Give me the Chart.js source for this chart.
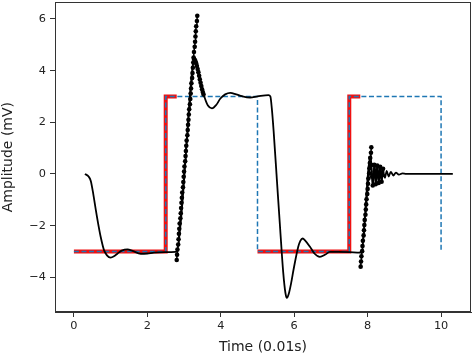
<!DOCTYPE html>
<html><head><meta charset="utf-8">
<script src="https://cdn.jsdelivr.net/npm/chart.js@4"></script>
<style>html,body{margin:0;padding:0;background:#fff}#wrap{width:474px;height:356px}</style>
</head><body><div id="wrap"><canvas id="c" width="474" height="356"></canvas></div>
<script>
// ---- data ----
const xTicks = [0, 2, 4, 6, 8, 10];
const yTicks = [-4, -2, 0, 2, 4, 6];

// blue dashed step signal
const stepX = [0, 2.5, 2.5, 5, 5, 7.5, 7.5, 10, 10];
const stepY = [-3, -3, 3, 3, -3, -3, 3, 3, -3];

// red thick segments (null = gap)
const redX = [0, 2.5, 2.5, 2.8, 3.9, 5, 7.5, 7.5, 7.8];
const redY = [-3, -3, 3, 3, null, -3, -3, 3, 3];

// black response line
const respX = [0.30, 0.40, 0.46, 0.53, 0.60, 0.67, 0.73, 0.82, 0.90, 1.00, 1.10, 1.19, 1.30, 1.46, 1.60, 1.82, 2.00, 2.18, 2.50, 2.77, 2.80,
  3.22, 3.27, 3.32, 3.42, 3.54, 3.65, 3.76, 3.88, 3.99, 4.12, 4.26, 4.42, 4.58, 4.80, 5.00, 5.30, 5.35, 5.39, 5.44, 5.53, 5.62, 5.70, 5.76, 5.80,
  5.85, 5.92, 5.98, 6.11, 6.17, 6.23, 6.30, 6.43, 6.55, 6.70, 6.85, 6.97, 7.20, 7.50, 7.79, 7.82,
  8.08, 8.10, 8.12, 8.14, 8.16, 8.18, 8.20, 8.22, 8.24, 8.26, 8.28, 8.30, 8.32, 8.34, 8.36, 8.38, 8.40, 8.42,
  8.44, 8.47, 8.52, 8.57, 8.63, 8.70, 8.77, 8.85, 8.95, 9.05, 10.32];
const respY = [0.00, -0.10, -0.27, -0.80, -1.42, -2.00, -2.44, -2.95, -3.15, -3.24, -3.18, -3.08, -2.97, -2.92, -2.98, -3.09, -3.08, -3.05, -3.03, -3.02, -3.00,
  4.00, 4.45, 4.35, 3.70, 3.05, 2.65, 2.54, 2.68, 2.92, 3.08, 3.14, 3.08, 3.01, 2.96, 3.00, 3.05, 3.00, 2.54, 1.65, -0.27, -2.18, -3.80, -4.60, -4.80,
  -4.65, -4.20, -3.72, -2.82, -2.58, -2.50, -2.58, -2.82, -3.08, -3.21, -3.12, -3.02, -3.02, -3.03, -3.05, -3.05,
  0.70, 0.35, -0.10, -0.45, -0.10, 0.35, 0.10, -0.40, -0.10, 0.32, 0.05, -0.35, -0.10, 0.28, 0.05, -0.30, -0.05, 0.20,
  0.00, -0.15, 0.12, -0.10, 0.08, -0.06, 0.05, -0.03, 0.02, 0.00, 0.00];

// black dotted samples (first rise)
const dotsAX = [2.80, 2.81, 2.82, 2.84, 2.85, 2.86, 2.87, 2.88, 2.90, 2.91, 2.92, 2.93, 2.94, 2.95, 2.97, 2.98,
  2.99, 3.00, 3.01, 3.03, 3.04, 3.05, 3.06, 3.07, 3.09, 3.10, 3.11, 3.12, 3.13, 3.14, 3.16, 3.17,
  3.18, 3.19, 3.20, 3.22, 3.23, 3.24, 3.25, 3.26, 3.27, 3.29, 3.30, 3.31, 3.32, 3.33, 3.35, 3.36];
const dotsAY = [-3.33, -3.13, -2.93, -2.73, -2.53, -2.32, -2.12, -1.92, -1.72, -1.52, -1.32, -1.12, -0.92, -0.72, -0.52, -0.31,
  -0.11, 0.09, 0.29, 0.49, 0.69, 0.89, 1.09, 1.29, 1.50, 1.70, 1.90, 2.10, 2.30, 2.50, 2.70, 2.90,
  3.11, 3.31, 3.51, 3.71, 3.91, 4.11, 4.31, 4.51, 4.72, 4.92, 5.12, 5.32, 5.52, 5.72, 5.92, 6.12];
// black dotted samples (first fall after peak)
const dotsBX = [3.27, 3.29, 3.31, 3.33, 3.35, 3.37, 3.39, 3.41, 3.43, 3.45, 3.47, 3.49, 3.51, 3.53];
const dotsBY = [4.45, 4.42, 4.36, 4.28, 4.18, 4.06, 3.94, 3.80, 3.66, 3.53, 3.40, 3.28, 3.17, 3.08];
// black dotted samples (second rise)
const dotsCX = [7.81, 7.82, 7.83, 7.85, 7.86, 7.87, 7.89, 7.90, 7.91, 7.92, 7.94, 7.95, 7.96, 7.97, 7.99, 8.00,
  8.01, 8.02, 8.04, 8.05, 8.06, 8.07, 8.09, 8.10];
const dotsCY = [-3.59, -3.39, -3.19, -2.99, -2.79, -2.59, -2.38, -2.18, -1.98, -1.78, -1.58, -1.38, -1.18, -0.98, -0.78, -0.58,
  -0.38, -0.18, 0.02, 0.22, 0.42, 0.62, 0.82, 1.03];
// black dotted samples (second ringing)
const dotsDX = [8.10, 8.12, 8.14, 8.16, 8.18, 8.20, 8.22, 8.24, 8.26, 8.28, 8.30, 8.32, 8.34, 8.36, 8.38, 8.40, 8.42];
const dotsDY = [0.35, -0.10, -0.45, -0.10, 0.35, 0.10, -0.40, -0.10, 0.32, 0.05, -0.35, -0.10, 0.28, 0.05, -0.30, -0.05, 0.20];

// ---- chart ----
const pts = (xs, ys) => xs.map((x, i) => ({x: x, y: ys[i]}));
Chart.defaults.font.family = "'DejaVu Sans', sans-serif";

const dotStyle = {
  showLine: true, borderColor: '#000', borderWidth: 1.5, pointRadius: 2.3,
  pointBackgroundColor: '#000', pointBorderWidth: 0, pointHoverRadius: 0, tension: 0
};

const framePlugin = {
  id: 'frame',
  afterDraw(chart) {
    const a = chart.chartArea, ctx = chart.ctx;
    ctx.save();
    ctx.strokeStyle = '#333';
    ctx.lineWidth = 1;
    ctx.strokeRect(Math.round(a.left) + 0.5, Math.round(a.top) + 0.5,
      Math.round(a.right - a.left) - 1, Math.round(a.bottom - a.top) - 1);
    ctx.restore();
  }
};

new Chart(document.getElementById('c'), {
  type: 'scatter',
  data: {
    datasets: [
      Object.assign({data: pts(dotsAX, dotsAY)}, dotStyle),
      Object.assign({data: pts(dotsBX, dotsBY)}, dotStyle),
      Object.assign({data: pts(dotsCX, dotsCY)}, dotStyle),
      Object.assign({data: pts(dotsDX, dotsDY)}, dotStyle),
      {data: pts(respX, respY), showLine: true, borderColor: '#000', borderWidth: 1.8,
        pointRadius: 0, cubicInterpolationMode: 'monotone'},
      {data: pts(stepX, stepY), showLine: true, borderColor: '#1f77b4', borderWidth: 1.5,
        borderDash: [5, 2.6], pointRadius: 0, tension: 0},
      {data: pts(redX, redY), showLine: true, borderColor: '#f01010', borderWidth: 4,
        pointRadius: 0, tension: 0, spanGaps: false}
    ]
  },
  options: {
    responsive: false, animation: false, devicePixelRatio: 1,
    layout: {padding: {top: 0, right: 3, bottom: 0, left: 0}},
    plugins: {legend: {display: false}, tooltip: {enabled: false}},
    scales: {
      x: {
        type: 'linear', min: -0.515, max: 10.815,
        afterBuildTicks: s => { s.ticks = xTicks.map(v => ({value: v})); },
        afterFit: s => { s.height = 44; },
        grid: {drawOnChartArea: false, drawTicks: true, tickLength: 5, color: '#333'},
        border: {color: '#333', width: 1},
        ticks: {color: '#222', font: {size: 11.3}, padding: 2, maxRotation: 0, autoSkip: false},
        title: {display: true, text: 'Time (0.01s)', color: '#222', font: {size: 14}, padding: {top: 0, bottom: 0}}
      },
      y: {
        type: 'linear', min: -5.345, max: 6.645,
        afterBuildTicks: s => { s.ticks = yTicks.map(v => ({value: v})); },
        afterFit: s => { s.width = 55; s.paddingTop = 0; s.paddingBottom = 0; },
        grid: {drawOnChartArea: false, drawTicks: true, tickLength: 5, color: '#333'},
        border: {color: '#333', width: 1},
        ticks: {color: '#222', font: {size: 11.3}, padding: 4, autoSkip: false,
          callback: v => (v < 0 ? '\u2212' + Math.abs(v) : String(v))},
        title: {display: true, text: 'Amplitude (mV)', color: '#222', font: {size: 14}, padding: {top: 0, bottom: 0}}
      }
    }
  },
  plugins: [framePlugin]
});
</script>
</body></html>
